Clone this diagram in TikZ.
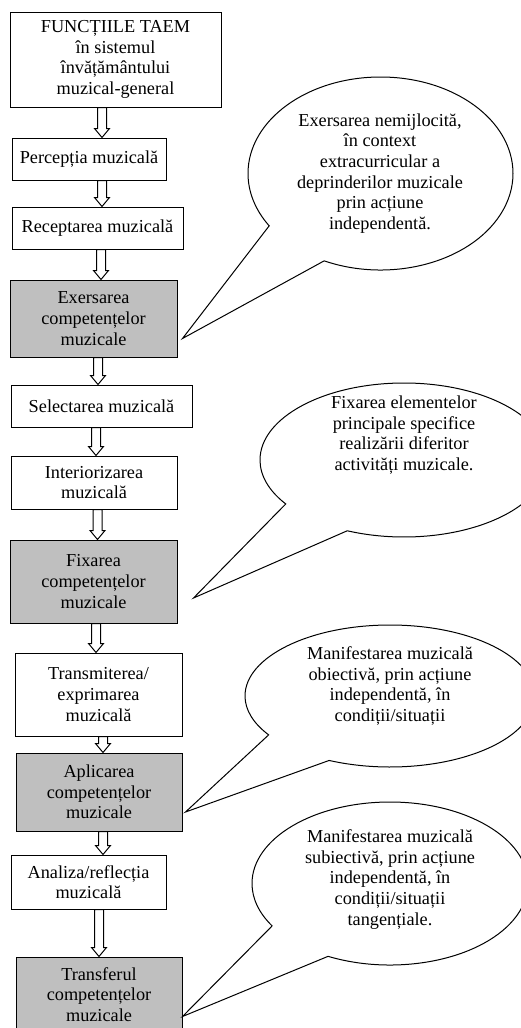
\documentclass[tikz,border=0pt]{standalone}
\usepackage{fontspec}
\setmainfont{Liberation Serif}
\usetikzlibrary{calc,shapes.callouts}
\definecolor{boxgrey}{gray}{0.75}
\def\pxl{0.75pt}
\tikzset{
  stage/.style={draw, line width=0.75pt, fill=white, rectangle, inner sep=0pt, align=center, font=\fontsize{13.7}{15.5}\selectfont},
  keystage/.style={stage, fill=boxgrey},
  bubble/.style={ellipse callout, draw, line width=0.75pt, fill=white, inner sep=0pt, callout pointer arc=32},
  bubbletext/.style={align=center, inner sep=0pt, font=\fontsize{13.7}{15.5}\selectfont},
  arrowline/.style={line width=0.75pt, line join=miter}
}
\def\hollowarrow(#1)(#2)(#3){
  \coordinate (ha) at (#1.south -| #3,0);
  \coordinate (hb) at (#2.north -| #3,0);
  \draw[arrowline] ($(ha)+(-4.5,0)$) -- ($(hb)+(-4.5,-9)$) -- ($(hb)+(-7.5,-9)$) -- (hb) -- ($(hb)+(7.5,-9)$) -- ($(hb)+(4.5,-9)$) -- ($(ha)+(4.5,0)$) -- cycle;}

\begin{document}
\begin{tikzpicture}[x=0.75pt, y=-0.75pt]
	%%%%% START %%%%%
	\useasboundingbox (0, 0) rectangle (521, 1028);
	
	\node[stage, minimum width=211*\pxl, minimum height=95*\pxl] (func) at (115.5, 59.5) {FUNCȚIILE TAEM\\în sistemul\\învățământului\\muzical-general};
	\node[stage, minimum width=154*\pxl, minimum height=42*\pxl] (perc) at (89, 159) {Percepția muzicală};
	\node[stage, minimum width=171*\pxl, minimum height=42*\pxl] (recep) at (97.5, 228) {Receptarea muzicală};
	\node[keystage, minimum width=167*\pxl, minimum height=77*\pxl] (exers) at (93.5, 318.5) {Exersarea\\competențelor\\muzicale};
	\node[stage, minimum width=181*\pxl, minimum height=42*\pxl] (selec) at (101.5, 406) {Selectarea muzicală};
	\node[stage, minimum width=166*\pxl, minimum height=53*\pxl] (inter) at (94, 482.5) {Interiorizarea\\muzicală};
	\node[keystage, minimum width=167*\pxl, minimum height=83*\pxl] (fixar) at (93.5, 581.5) {Fixarea\\competențelor\\muzicale};
	\node[stage, minimum width=167*\pxl, minimum height=83*\pxl] (trans) at (98.5, 694.5) {Transmiterea/\\exprimarea\\muzicală};
	\node[keystage, minimum width=166*\pxl, minimum height=78*\pxl] (aplic) at (99, 792) {Aplicarea\\competențelor\\muzicale};
	\node[stage, minimum width=155*\pxl, minimum height=54*\pxl] (anal) at (88.5, 882) {Analiza/reflecția\\muzicală};
	\node[keystage, minimum width=166*\pxl, minimum height=75*\pxl] (transf) at (99, 994.5) {Transferul\\competențelor\\muzicale};
	
	\hollowarrow(func)(perc)(102)
	\hollowarrow(perc)(recep)(102)
	\hollowarrow(recep)(exers)(101)
	\hollowarrow(exers)(selec)(98)
	\hollowarrow(selec)(inter)(96)
	\hollowarrow(inter)(fixar)(97.5)
	\hollowarrow(fixar)(trans)(96)
	\hollowarrow(trans)(aplic)(103)
	\hollowarrow(aplic)(anal)(103)
	\hollowarrow(anal)(transf)(99)
	
	\coordinate (p1) at ($(exers.east)+(5, 20)$);
	\coordinate (p2) at ($(fixar.east)+(16, 16.5)$);
	\coordinate (p3) at ($(aplic.east)+(3, 20)$);
	\coordinate (p4) at ($(transf.east)+(0, 22)$);
	
	\node[bubble, minimum width=265*\pxl, minimum height=193*\pxl, callout absolute pointer={(p1)}] (b1) at (380.5, 173.5) {};
	\node[bubble, minimum width=288*\pxl, minimum height=154*\pxl, callout absolute pointer={(p2)}] (b2) at (404, 460) {};
	\node[bubble, minimum width=290*\pxl, minimum height=142*\pxl, callout absolute pointer={(p3)}] (b3) at (390, 696) {};
	\node[bubble, minimum width=276*\pxl, minimum height=163*\pxl, callout absolute pointer={(p4)}] (b4) at (390, 883.5) {};
	
	\node[bubbletext] (t1) at (380, 173.5) {Exersarea nemijlocită,\\în context\\extracurricular a\\deprinderilor muzicale\\prin acțiune\\independentă.};
	\node[bubbletext] (t2) at (404, 435) {Fixarea elementelor\\principale specifice\\realizării diferitor\\activități muzicale.};
	\node[bubbletext] (t3) at (390, 686) {Manifestarea muzicală\\obiectivă, prin acțiune\\independentă, în\\condiții/situații};
	\node[bubbletext] (t4) at (390, 879.5) {Manifestarea muzicală\\subiectivă, prin acțiune\\independentă, în\\condiții/situații\\tangențiale.};
	
	%%%%% END %%%%%
\end{tikzpicture}
\end{document}
